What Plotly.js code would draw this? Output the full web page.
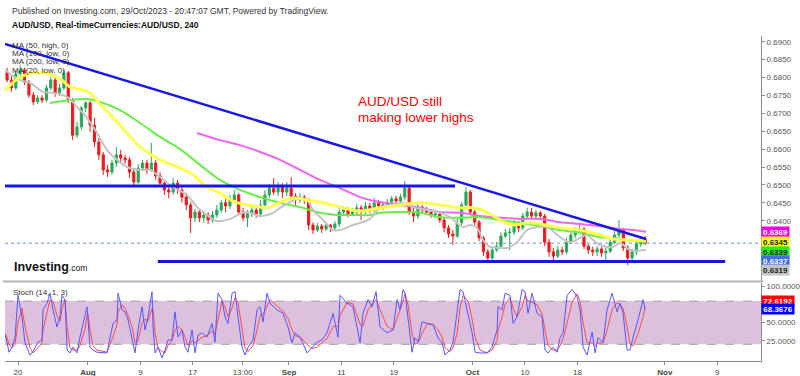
<!DOCTYPE html>
<html><head><meta charset="utf-8">
<script src="https://cdn.plot.ly/plotly-3.0.1.min.js"></script>
<style>html,body{margin:0;padding:0;background:#fff;}#chart{width:800px;height:376px;}</style>
</head><body><div id="chart"></div>
<script>
// ---- candle data (12h candles, x in trading days from 20 Jul) ----
const candleT = [-1.25,-0.75,-0.25,0.25,0.75,1.25,1.75,2.25,2.75,3.25,
3.75,4.25,4.75,5.25,5.75,6.25,6.75,7.25,7.75,8.25,
8.75,9.25,9.75,10.25,10.75,11.25,11.75,12.25,12.75,13.25,
13.75,14.25,14.75,15.25,15.75,16.25,16.75,17.25,17.75,18.25,
18.75,19.25,19.75,20.25,20.75,21.25,21.75,22.25,22.75,23.25,
23.75,24.25,24.75,25.25,25.75,26.25,26.75,27.25,27.75,28.25,
28.75,29.25,29.75,30.25,30.75,31.25,31.75,32.25,32.75,33.25,
33.75,34.25,34.75,35.25,35.75,36.25,36.75,37.25,37.75,38.25,
38.75,39.25,39.75,40.25,40.75,41.25,41.75,42.25,42.75,43.25,
43.75,44.25,44.75,45.25,45.75,46.25,46.75,47.25,47.75,48.25,
48.75,49.25,49.75,50.25,50.75,51.25,51.75,52.25,52.75,53.25,
53.75,54.25,54.75,55.25,55.75,56.25,56.75,57.25,57.75,58.25,
58.75,59.25,59.75,60.25,60.75,61.25,61.75,62.25,62.75,63.25,
63.75,64.25,64.75,65.25,65.75,66.25,66.75,67.25,67.75,68.25,
68.75,69.25,69.75,70.25,70.75,71.25,71.75];
const openP = [0.6815,0.6793,0.6771,0.6810,0.6821,0.6787,0.6751,0.6732,0.6743,0.6737,
0.6771,0.6793,0.6757,0.6771,0.6813,0.6737,0.6639,0.6662,0.6715,0.6729,
0.6667,0.6620,0.6584,0.6542,0.6536,0.6561,0.6584,0.6575,0.6570,0.6536,
0.6508,0.6547,0.6561,0.6542,0.6561,0.6525,0.6505,0.6486,0.6480,0.6505,
0.6486,0.6466,0.6444,0.6408,0.6424,0.6408,0.6416,0.6402,0.6416,0.6430,
0.6450,0.6441,0.6458,0.6472,0.6424,0.6408,0.6419,0.6430,0.6419,0.6444,
0.6472,0.6491,0.6480,0.6497,0.6480,0.6491,0.6469,0.6458,0.6466,0.6458,
0.6388,0.6374,0.6385,0.6377,0.6388,0.6380,0.6391,0.6424,0.6430,0.6419,
0.6424,0.6436,0.6424,0.6441,0.6430,0.6450,0.6441,0.6444,0.6452,0.6461,
0.6455,0.6466,0.6491,0.6424,0.6413,0.6438,0.6430,0.6424,0.6416,0.6419,
0.6402,0.6380,0.6363,0.6357,0.6394,0.6444,0.6480,0.6424,0.6396,0.6352,
0.6313,0.6296,0.6318,0.6329,0.6357,0.6366,0.6368,0.6388,0.6380,0.6413,
0.6424,0.6413,0.6422,0.6413,0.6340,0.6313,0.6301,0.6318,0.6313,0.6340,
0.6360,0.6374,0.6377,0.6329,0.6318,0.6313,0.6321,0.6310,0.6315,0.6340,
0.6360,0.6374,0.6324,0.6296,0.6313,0.6335,0.6349];
const highP = [0.6827,0.6804,0.6821,0.6835,0.6827,0.6793,0.6760,0.6751,0.6751,0.6779,
0.6801,0.6799,0.6782,0.6821,0.6818,0.6743,0.6676,0.6720,0.6734,0.6734,
0.6687,0.6631,0.6592,0.6556,0.6570,0.6606,0.6598,0.6584,0.6578,0.6547,
0.6558,0.6570,0.6570,0.6617,0.6570,0.6536,0.6514,0.6497,0.6519,0.6514,
0.6497,0.6477,0.6452,0.6433,0.6430,0.6427,0.6424,0.6427,0.6444,0.6458,
0.6461,0.6472,0.6486,0.6477,0.6436,0.6430,0.6441,0.6438,0.6458,0.6486,
0.6503,0.6519,0.6508,0.6505,0.6508,0.6522,0.6477,0.6477,0.6472,0.6463,
0.6396,0.6394,0.6391,0.6396,0.6391,0.6399,0.6436,0.6441,0.6438,0.6436,
0.6447,0.6444,0.6452,0.6450,0.6463,0.6458,0.6452,0.6461,0.6469,0.6469,
0.6475,0.6511,0.6497,0.6436,0.6447,0.6444,0.6438,0.6433,0.6430,0.6424,
0.6410,0.6388,0.6374,0.6405,0.6452,0.6494,0.6486,0.6430,0.6402,0.6357,
0.6321,0.6329,0.6340,0.6368,0.6377,0.6380,0.6402,0.6399,0.6422,0.6436,
0.6436,0.6430,0.6427,0.6419,0.6349,0.6324,0.6329,0.6327,0.6352,0.6368,
0.6382,0.6388,0.6382,0.6335,0.6327,0.6329,0.6327,0.6324,0.6349,0.6371,
0.6402,0.6380,0.6332,0.6321,0.6343,0.6357,0.6357];
const lowP = [0.6787,0.6760,0.6765,0.6799,0.6779,0.6743,0.6723,0.6726,0.6729,0.6732,
0.6765,0.6746,0.6748,0.6765,0.6729,0.6625,0.6631,0.6653,0.6704,0.6648,
0.6606,0.6570,0.6528,0.6522,0.6528,0.6550,0.6561,0.6558,0.6519,0.6497,
0.6503,0.6539,0.6530,0.6536,0.6514,0.6494,0.6472,0.6463,0.6472,0.6475,
0.6450,0.6430,0.6366,0.6396,0.6396,0.6394,0.6391,0.6394,0.6408,0.6422,
0.6424,0.6433,0.6450,0.6416,0.6399,0.6382,0.6410,0.6408,0.6410,0.6436,
0.6463,0.6472,0.6469,0.6463,0.6469,0.6458,0.6444,0.6450,0.6447,0.6374,
0.6363,0.6368,0.6366,0.6371,0.6368,0.6371,0.6382,0.6416,0.6410,0.6413,
0.6416,0.6402,0.6419,0.6422,0.6424,0.6433,0.6430,0.6436,0.6444,0.6447,
0.6447,0.6458,0.6416,0.6396,0.6405,0.6422,0.6416,0.6408,0.6408,0.6394,
0.6368,0.6352,0.6332,0.6352,0.6388,0.6436,0.6416,0.6388,0.6343,0.6301,
0.6285,0.6290,0.6313,0.6321,0.6352,0.6318,0.6360,0.6368,0.6374,0.6405,
0.6405,0.6405,0.6402,0.6329,0.6299,0.6290,0.6296,0.6304,0.6307,0.6335,
0.6352,0.6363,0.6321,0.6307,0.6301,0.6301,0.6299,0.6290,0.6310,0.6335,
0.6352,0.6315,0.6276,0.6290,0.6304,0.6327,0.6332];
const closeP = [0.6793,0.6771,0.6810,0.6821,0.6787,0.6751,0.6732,0.6743,0.6737,0.6771,
0.6793,0.6757,0.6771,0.6813,0.6737,0.6639,0.6662,0.6715,0.6729,0.6667,
0.6620,0.6584,0.6542,0.6536,0.6561,0.6584,0.6575,0.6570,0.6536,0.6508,
0.6547,0.6561,0.6542,0.6561,0.6525,0.6505,0.6486,0.6480,0.6505,0.6486,
0.6466,0.6444,0.6408,0.6424,0.6408,0.6416,0.6402,0.6416,0.6430,0.6450,
0.6441,0.6458,0.6472,0.6424,0.6408,0.6419,0.6430,0.6419,0.6444,0.6472,
0.6491,0.6480,0.6497,0.6480,0.6491,0.6469,0.6458,0.6466,0.6458,0.6388,
0.6374,0.6385,0.6377,0.6388,0.6380,0.6391,0.6424,0.6430,0.6419,0.6424,
0.6436,0.6424,0.6441,0.6430,0.6450,0.6441,0.6444,0.6452,0.6461,0.6455,
0.6466,0.6491,0.6424,0.6413,0.6438,0.6430,0.6424,0.6416,0.6419,0.6402,
0.6380,0.6363,0.6357,0.6394,0.6444,0.6480,0.6424,0.6396,0.6352,0.6313,
0.6296,0.6318,0.6329,0.6357,0.6366,0.6368,0.6388,0.6380,0.6413,0.6424,
0.6413,0.6422,0.6413,0.6340,0.6313,0.6301,0.6318,0.6313,0.6340,0.6360,
0.6374,0.6377,0.6329,0.6318,0.6313,0.6321,0.6310,0.6315,0.6340,0.6360,
0.6374,0.6324,0.6296,0.6313,0.6335,0.6349,0.6337];

// ---- moving averages ----
const ma50HighT = [-1.49,0.23,2.86,4.81,5.95,8.01,9.38,11.67,13.96,16.25,18.54,20.02,21.62,23.11,24.60,26.89,28.83,29.98,31.46,33.07,34.90,36.84,39.13,41.42,43.71,46.00,48.28,50.57,52.06,53.66,55.15,56.64,58.24,59.73,62.01,64.30,66.59,68.08,69.68,71.85];
const ma50HighP = [0.6762,0.6801,0.6813,0.6796,0.6774,0.6760,0.6726,0.6667,0.6606,0.6570,0.6547,0.6528,0.6494,0.6477,0.6455,0.6441,0.6438,0.6452,0.6463,0.6458,0.6450,0.6438,0.6427,0.6436,0.6444,0.6450,0.6444,0.6436,0.6436,0.6424,0.6402,0.6388,0.6394,0.6391,0.6380,0.6374,0.6360,0.6349,0.6346,0.6345];
const ma100LowT = [3.66,7.89,9.38,11.67,13.96,16.25,18.54,20.82,23.11,25.40,27.69,29.98,32.27,34.55,36.50,38.33,40.27,41.42,43.71,46.00,48.28,50.57,52.86,55.15,57.44,59.73,62.01,64.30,66.59,68.88,71.17,71.85];
const ma100LowP = [0.6729,0.6740,0.6732,0.6709,0.6673,0.6634,0.6600,0.6556,0.6514,0.6486,0.6466,0.6450,0.6438,0.6422,0.6416,0.6416,0.6416,0.6422,0.6424,0.6422,0.6410,0.6408,0.6410,0.6402,0.6394,0.6385,0.6374,0.6366,0.6354,0.6349,0.6341,0.6339];
const ma200LowT = [20.48,23.11,25.40,27.69,29.98,32.27,34.55,36.84,39.13,41.42,43.71,46.00,48.28,50.57,52.86,55.15,57.44,59.73,62.01,64.30,66.59,68.88,70.37,71.85];
const ma200LowP = [0.6645,0.6625,0.6611,0.6592,0.6570,0.6542,0.6514,0.6491,0.6466,0.6452,0.6444,0.6436,0.6424,0.6422,0.6413,0.6408,0.6405,0.6405,0.6396,0.6391,0.6385,0.6377,0.6374,0.6369];
const ma20LowT = [-1.49,0.23,1.37,2.86,4.00,5.61,6.75,7.89,9.04,10.18,11.33,12.47,13.96,15.10,16.25,17.73,19.34,20.48,21.62,22.77,24.26,25.40,26.20,27.69,29.18,29.98,31.12,32.27,33.07,33.75,34.90,36.04,36.84,38.33,40.27,41.42,42.91,44.05,45.19,46.80,48.28,49.43,50.23,50.92,51.72,52.52,53.20,54.00,55.15,55.95,57.09,58.24,59.38,60.53,62.01,63.16,64.30,65.10,65.79,66.59,68.08,68.88,70.02,71.85];
const ma20LowP = [0.6821,0.6793,0.6785,0.6760,0.6757,0.6746,0.6718,0.6687,0.6645,0.6598,0.6570,0.6550,0.6542,0.6542,0.6522,0.6494,0.6472,0.6438,0.6416,0.6399,0.6405,0.6419,0.6424,0.6413,0.6422,0.6436,0.6452,0.6463,0.6458,0.6430,0.6402,0.6374,0.6374,0.6388,0.6405,0.6436,0.6444,0.6450,0.6438,0.6430,0.6422,0.6410,0.6394,0.6382,0.6388,0.6380,0.6346,0.6327,0.6324,0.6324,0.6340,0.6374,0.6382,0.6382,0.6354,0.6340,0.6352,0.6360,0.6346,0.6332,0.6327,0.6338,0.6318,0.6319];

// ---- drawn trend lines ----
const downTrendT = [-1.49, 71.85];
const downTrendP = [0.6894, 0.6349];
const resistT = [-1.49, 50.0];
const resistP = [0.6497, 0.6497];
const supportT = [16.0, 80.9];
const supportP = [0.6286, 0.6286];
const lastPrice = 0.6337;

// ---- stochastic (14,1,3) ----
const stochT = [-1.49,-1.26,-1.03,-0.69,-0.34,0,0.46,0.80,1.37,1.72,
2.29,2.75,2.86,3.32,3.66,4.00,4.46,4.81,5.03,5.38,
5.61,5.95,6.29,6.75,7.09,7.67,7.89,8.01,8.24,8.58,
9.04,10.18,10.87,11.33,11.44,11.90,12.24,12.59,13.04,13.39,
13.73,14.19,14.53,14.87,15.33,15.45,15.68,16.02,16.48,16.82,
17.16,17.62,17.96,18.31,18.76,19.11,19.45,19.91,20.25,20.60,
21.05,21.62,22.20,22.54,22.88,23.34,23.68,24.03,24.49,24.83,
25.17,25.63,25.97,26.32,26.89,27.35,27.69,28.03,28.49,28.83,
29.63,30.32,30.89,31.35,31.69,32.27,33.07,33.64,34.21,34.78,
35.36,36.04,36.61,36.84,37.64,38.33,39.13,39.47,40.05,40.50,
40.96,41.42,42.22,42.91,43.36,43.71,44.05,44.28,44.62,45.08,
45.42,45.77,46.22,46.80,47.48,48.05,48.51,48.86,49.43,49.77,
50.23,50.57,50.92,51.49,51.95,52.29,52.86,53.66,54.23,54.81,
54.92,55.38,55.72,56.29,56.64,57.09,57.67,58.01,58.35,58.81,
59.38,59.95,60.30,60.64,61.21,61.67,62.01,62.36,62.82,63.39,
63.96,64.30,64.65,65.10,65.68,66.02,66.36,66.93,67.39,67.96,
68.54,68.88,69.22,69.68,70.02,70.37,70.94,71.51,71.74];
const stochK = [33,23,9,16,29,88,58,22,5,10,
23,26,68,77,91,68,44,58,88,82,
12,8,16,8,30,58,72,54,16,12,
9,8,49,54,91,68,65,54,30,8,
40,72,40,58,93,44,8,16,1,12,
26,26,65,30,40,16,9,40,8,33,
36,30,49,23,91,82,58,49,91,93,
58,16,5,16,26,68,72,51,91,77,
68,63,44,22,36,30,8,16,23,26,
36,63,30,88,77,72,22,63,82,72,
93,44,36,40,82,68,96,91,54,9,
29,23,51,49,47,29,22,5,12,23,
63,96,93,63,36,9,8,8,16,40,
72,68,91,88,49,58,96,93,63,91,
63,58,12,8,16,9,29,36,88,96,
86,68,16,5,37,8,29,23,68,91,
65,77,63,12,12,30,54,82,68.3676];
const stochD = [35,30,20,15,20,50,70,45,15,8,
15,22,40,65,82,80,60,52,70,82,
45,15,12,12,18,42,60,62,40,18,
12,9,30,48,65,75,70,60,45,22,
25,50,55,52,70,68,35,15,10,8,
18,25,40,45,40,30,18,25,22,25,
30,32,38,35,55,80,72,58,70,85,
78,40,15,10,18,40,60,62,72,82,
74,66,56,40,32,30,20,14,16,22,
28,45,45,60,78,76,48,45,68,76,
82,68,45,40,55,68,80,90,75,35,
20,22,35,48,48,40,30,15,10,15,
35,70,88,80,55,30,12,8,12,25,
40,58,75,85,70,58,72,88,80,78,
75,62,40,18,12,12,18,28,50,78,
90,80,50,22,22,18,22,22,40,68,
78,75,70,45,20,18,35,58,72.6192];

// ---- axis ticks ----
const xTickVals = [0, 8, 14, 20, 25.7, 31, 37, 43, 52, 58, 64, 74, 80];
const xTickText = ['20','<b>Aug</b>','9','17','13:00','<b>Sep</b>','11','19','<b>Oct</b>','10','18','<b>Nov</b>','9'];
const priceTicks = [0.64,0.645,0.65,0.655,0.66,0.665,0.67,0.675,0.68,0.685,0.69];
const stochTicks = [25,50,100];
const maLegend = ['MA (50, high, 0)','MA (100, low, 0)','MA (200, low, 0)','MA (20, low, 0)'];

const FONT = 'Liberation Sans, Arial, sans-serif';
const last = a => a[a.length-1];

const traces = [
  {type:'scatter', mode:'lines', x:ma200LowT, y:ma200LowP, line:{color:'#ee66ee', width:2, shape:'spline'}, hoverinfo:'skip'},
  {type:'scatter', mode:'lines', x:ma100LowT, y:ma100LowP, line:{color:'#66ee44', width:2, shape:'spline'}, hoverinfo:'skip'},
  {type:'scatter', mode:'lines', x:ma20LowT, y:ma20LowP, line:{color:'#c4c4c4', width:2, shape:'spline'}, hoverinfo:'skip'},
  {type:'scatter', mode:'lines', x:ma50HighT, y:ma50HighP, line:{color:'#ffff50', width:3, shape:'spline'}, hoverinfo:'skip'},
  {type:'candlestick', x:candleT, open:openP, high:highP, low:lowP, close:closeP,
    increasing:{line:{color:'#2aa85a', width:1}, fillcolor:'#2aa85a'},
    decreasing:{line:{color:'#ee1a1a', width:1}, fillcolor:'#ee1a1a'},
    whiskerwidth:0, hoverinfo:'skip'},
  {type:'scatter', mode:'lines', x:downTrendT, y:downTrendP, line:{color:'#1818e6', width:2.5}, hoverinfo:'skip'},
  {type:'scatter', mode:'lines', x:resistT, y:resistP, line:{color:'#1818e6', width:3}, hoverinfo:'skip'},
  {type:'scatter', mode:'lines', x:supportT, y:supportP, line:{color:'#1818e6', width:3}, hoverinfo:'skip'},
  {type:'scatter', mode:'lines', x:stochT, y:stochD, xaxis:'x', yaxis:'y2', line:{color:'#ff4a4a', width:1}, hoverinfo:'skip'},
  {type:'scatter', mode:'lines', x:stochT, y:stochK, xaxis:'x', yaxis:'y2', line:{color:'#5555ff', width:1}, hoverinfo:'skip'}
];

function pyToPaper(py){ return (361 - py) / 325; }
function pxToPaper(px){ return (px - 5) / 756; }

const ann = [];
ann.push({xref:'paper', yref:'paper', x:pxToPaper(10), y:pyToPaper(10.5), xanchor:'left', yanchor:'middle', showarrow:false,
  text:'Published on Investing.com, 29/Oct/2023 - 20:47:07 GMT, Powered by TradingView.', font:{family:FONT, size:8.5, color:'#333'}});
ann.push({xref:'paper', yref:'paper', x:pxToPaper(10), y:pyToPaper(25), xanchor:'left', yanchor:'middle', showarrow:false,
  text:'<b>AUD/USD, Real-timeCurrencies:AUD/USD, 240</b>', font:{family:FONT, size:8.5, color:'#111'}});
[45, 53.3, 61.6, 70].forEach((py, k) => ann.push({xref:'paper', yref:'paper', x:pxToPaper(10), y:pyToPaper(py), xanchor:'left', yanchor:'middle', showarrow:false,
  text:maLegend[k], font:{family:FONT, size:8, color:'#333'}}));
ann.push({xref:'paper', yref:'paper', x:pxToPaper(356), y:pyToPaper(102), xanchor:'left', yanchor:'middle', showarrow:false,
  text:'AUD/USD still', font:{family:FONT, size:13.5, color:'#ff0000'}});
ann.push({xref:'paper', yref:'paper', x:pxToPaper(356), y:pyToPaper(117), xanchor:'left', yanchor:'middle', showarrow:false,
  text:'making lower highs', font:{family:FONT, size:13.5, color:'#ff0000'}});
ann.push({xref:'paper', yref:'paper', x:pxToPaper(12), y:pyToPaper(267), xanchor:'left', yanchor:'middle', showarrow:false,
  text:'<b>Investing</b><span style="font-size:8.5px">.com</span>', font:{family:FONT, size:12.5, color:'#111'}});
ann.push({xref:'paper', yref:'paper', x:pxToPaper(11), y:pyToPaper(292), xanchor:'left', yanchor:'middle', showarrow:false,
  text:'Stoch (14, 1, 3)', font:{family:FONT, size:8, color:'#333'}});

function priceTag(val, yref, bg, fg, shift, w){
  return {xref:'paper', yref:yref, x:1, y:val, xanchor:'left', yanchor:'middle', showarrow:false, yshift:shift,
    text:'<b>'+val.toFixed(4)+'</b>', bgcolor:bg, borderpad:1, width:w, height:8,
    font:{family:FONT, size:8, color:fg}, align:'center'};
}
ann.push(priceTag(last(ma200LowP), 'y', '#ee00ee', '#fff', 0, 25));
ann.push(priceTag(last(ma50HighP), 'y', '#ffff00', '#222', -2, 25));
ann.push(priceTag(last(ma100LowP), 'y', '#22ee22', '#222', -9.5, 25));
ann.push(priceTag(last(closeP), 'y', '#3f6fe0', '#fff', -18, 25));
ann.push(priceTag(last(ma20LowP), 'y', '#c4c4c4', '#222', -20.5, 25));
ann.push(priceTag(last(stochD), 'y2', '#ff0000', '#fff', 5.5, 30));
ann.push(priceTag(last(stochK), 'y2', '#0000ff', '#fff', 0, 30));

const shapes = [
  {type:'rect', xref:'paper', yref:'y2', x0:0, x1:1, y0:20, y1:80, fillcolor:'#dcc0de', line:{width:0}, layer:'below'},
  {type:'line', xref:'paper', yref:'y2', x0:0, x1:1, y0:80, y1:80, line:{color:'#a79aa8', width:1, dash:'dash'}, layer:'below'},
  {type:'line', xref:'paper', yref:'y2', x0:0, x1:1, y0:20, y1:20, line:{color:'#a79aa8', width:1, dash:'dash'}, layer:'below'},
  {type:'line', xref:'paper', yref:'y', x0:0, x1:1, y0:lastPrice, y1:lastPrice, line:{color:'#9fb8ee', width:1.5, dash:'dot'}, layer:'below'},
  {type:'line', xref:'paper', yref:'paper', x0:-0.003, x1:1.003, y0:pyToPaper(281.5), y1:pyToPaper(281.5), line:{color:'#b4b4b4', width:2}}
];

const axisCommon = {showgrid:false, zeroline:false, showline:true, linecolor:'#8a8a8a', linewidth:1, ticks:'outside', ticklen:3, tickcolor:'#8a8a8a', tickfont:{family:FONT, size:8, color:'#555'}};

const layout = {
  width:800, height:376,
  margin:{l:5, r:39, t:36, b:15, pad:0},
  paper_bgcolor:'#ffffff', plot_bgcolor:'#ffffff',
  showlegend:false, hovermode:false,
  font:{family:FONT, size:8, color:'#555'},
  xaxis:Object.assign({}, axisCommon, {range:[-1.487, 85.0], anchor:'y2', tickvals:xTickVals, ticktext:xTickText, rangeslider:{visible:false}, fixedrange:true, tickfont:{family:FONT, size:8, color:'#444'}}),
  yaxis:Object.assign({}, axisCommon, {domain:[0.24615, 1], range:[0.62316, 0.69159], side:'right', anchor:'x', tickvals:priceTicks, tickformat:'.4f'}),
  yaxis2:Object.assign({}, axisCommon, {domain:[0, 0.24], range:[-3.2, 105.1], side:'right', anchor:'x', tickvals:stochTicks, tickformat:'.4f'}),
  shapes:shapes,
  annotations:ann
};

Plotly.newPlot('chart', traces, layout, {staticPlot:true, displayModeBar:false});
</script>
</body></html>
